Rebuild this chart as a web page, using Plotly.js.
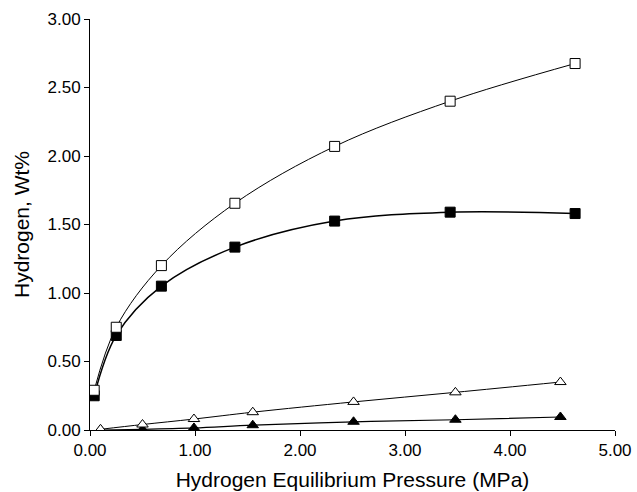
<!DOCTYPE html>
<html>
<head>
<meta charset="utf-8">
<script src="https://cdn.plot.ly/plotly-3.0.1.min.js"></script>
<style>html,body{margin:0;padding:0;background:#fff;}#chart{width:637px;height:492px;}</style>
</head>
<body>
<div id="chart"></div>
<script>
// Open squares
const openSqX = [0.04, 0.25, 0.68, 1.38, 2.33, 3.43, 4.62];
const openSqY = [0.29, 0.75, 1.20, 1.655, 2.07, 2.40, 2.675];
// Filled squares
const fillSqX = [0.04, 0.25, 0.68, 1.38, 2.33, 3.43, 4.62];
const fillSqY = [0.25, 0.69, 1.05, 1.335, 1.525, 1.59, 1.58];
// Open triangles
const openTriX = [0.10, 0.50, 0.99, 1.55, 2.51, 3.48, 4.48];
const openTriY = [0.005, 0.04, 0.08, 0.13, 0.205, 0.275, 0.35];
// Filled triangles
const fillTriX = [0.10, 0.50, 0.99, 1.55, 2.51, 3.48, 4.48];
const fillTriY = [0.0, 0.005, 0.015, 0.035, 0.06, 0.075, 0.095];

const xTicks = [0, 1, 2, 3, 4, 5];
const yTicks = [0, 0.5, 1, 1.5, 2, 2.5, 3];

const FONT = 'Liberation Sans, Arial, sans-serif';

const traces = [
  {x: fillTriX, y: fillTriY, mode: 'lines+markers', type: 'scatter',
   line: {color: '#000', width: 1.2, shape: 'spline'},
   marker: {symbol: 'triangle-up', size: 10, color: '#000', line: {color: '#000', width: 1}}},
  {x: openTriX, y: openTriY, mode: 'lines+markers', type: 'scatter',
   line: {color: '#000', width: 1, shape: 'spline'},
   marker: {symbol: 'triangle-up', size: 10, color: '#fff', line: {color: '#000', width: 1}}},
  {x: fillSqX, y: fillSqY, mode: 'lines+markers', type: 'scatter',
   line: {color: '#000', width: 1.5, shape: 'spline'},
   marker: {symbol: 'square', size: 10, color: '#000', line: {color: '#000', width: 1}}},
  {x: openSqX, y: openSqY, mode: 'lines+markers', type: 'scatter',
   line: {color: '#000', width: 1, shape: 'spline'},
   marker: {symbol: 'square', size: 10, color: '#fff', line: {color: '#000', width: 1}}}
];

const layout = {
  width: 637, height: 492,
  margin: {l: 90, r: 22, t: 19, b: 62},
  paper_bgcolor: '#fff', plot_bgcolor: '#fff',
  showlegend: false,
  font: {family: FONT, color: '#000', size: 17},
  xaxis: {
    range: [0, 5], tickvals: xTicks, tickformat: '.2f',
    showgrid: false, zeroline: false, showline: true, linecolor: '#000', linewidth: 1,
    ticks: 'outside', ticklen: 5, tickcolor: '#000', tickwidth: 1,
    tickfont: {family: FONT, size: 17, color: '#000'},
    title: {text: 'Hydrogen Equilibrium Pressure (MPa)', font: {family: FONT, size: 21, color: '#000'}, standoff: 12},
    automargin: false
  },
  yaxis: {
    range: [0, 3], tickvals: yTicks, tickformat: '.2f',
    showgrid: false, zeroline: false, showline: true, linecolor: '#000', linewidth: 1,
    ticks: 'outside', ticklen: 5, tickcolor: '#000', tickwidth: 1,
    tickfont: {family: FONT, size: 17, color: '#000'},
    title: {text: 'Hydrogen, Wt%', font: {family: FONT, size: 21, color: '#000'}, standoff: 12},
    automargin: false
  }
};

Plotly.newPlot('chart', traces, layout, {displayModeBar: false, staticPlot: true});
</script>
</body>
</html>
